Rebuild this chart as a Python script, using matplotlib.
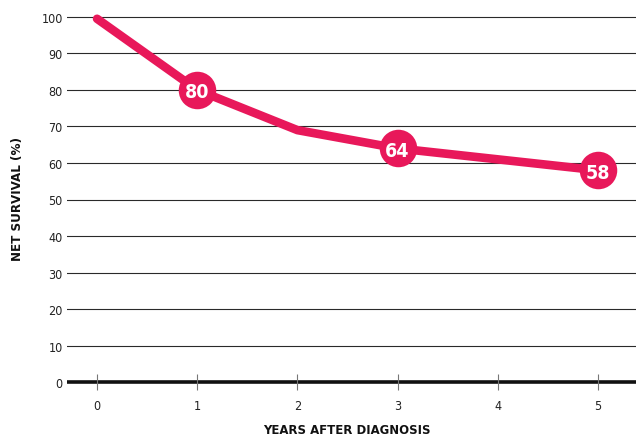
import matplotlib
matplotlib.use('Agg')
import matplotlib.pyplot as plt

# net survival by years after diagnosis
years = [0, 1, 2, 3, 4, 5]
survival = [99.5, 80, 69, 64, 61, 58]
labelled_years = [1, 3, 5]
y_ticks = [0, 10, 20, 30, 40, 50, 60, 70, 80, 90, 100]

PINK = '#E8185A'

# narrow face for all the labels
plt.rcParams['font.family'] = 'DejaVu Sans'
plt.rcParams['font.stretch'] = 'condensed'


def main():
    fig = plt.figure(figsize=(6.36, 4.39), dpi=100)
    # axes box in pixels: x 67..636, y 7..394 (top origin)
    ax = fig.add_axes([67 / 636, (439 - 394) / 439, 569 / 636, 387 / 439])
    ax.set_xlim(-0.3, 5.38)
    ax.set_ylim(-3, 103)

    for s in ax.spines.values():
        s.set_visible(False)

    # horizontal grid, heavy zero line
    for v in y_ticks[1:]:
        ax.axhline(v, color='#2a2a2a', lw=0.8, zorder=1)
    ax.axhline(0, color='#111111', lw=2.6, zorder=2)
    ax.vlines(years, -2.2, 2.2, color='#777777', lw=0.8, zorder=3)

    ax.set_yticks(y_ticks)
    ax.set_yticklabels([str(v) for v in y_ticks], fontsize=9, color='#222222')
    ax.tick_params(axis='y', length=0, pad=3)
    ax.set_xticks(years)
    ax.set_xticklabels([str(v) for v in years], fontsize=9, color='#222222')
    ax.tick_params(axis='x', length=0, pad=4)

    ax.plot(years, survival, color=PINK, lw=6.2, solid_capstyle='round',
            solid_joinstyle='round', zorder=4, clip_on=False)

    for yr in labelled_years:
        val = survival[years.index(yr)]
        ax.plot(yr, val, 'o', ms=27, color=PINK, mew=0,
                zorder=5, clip_on=False)
        ax.text(yr, val, '%d' % val, ha='center', va='center_baseline',
                color='white', fontsize=14, fontweight='bold', zorder=6)

    fig.text(347 / 636, 1 - 431 / 439, 'YEARS AFTER DIAGNOSIS', ha='center',
             va='center', fontsize=9.4, fontweight='bold', color='#111111')
    fig.text(18 / 636, 1 - 199 / 439, 'NET SURVIVAL (%)', ha='center',
             va='center', rotation=90, fontsize=9.5, fontweight='bold',
             color='#111111')

    fig.savefig('out.png', dpi=100, facecolor='white')


if __name__ == '__main__':
    main()
